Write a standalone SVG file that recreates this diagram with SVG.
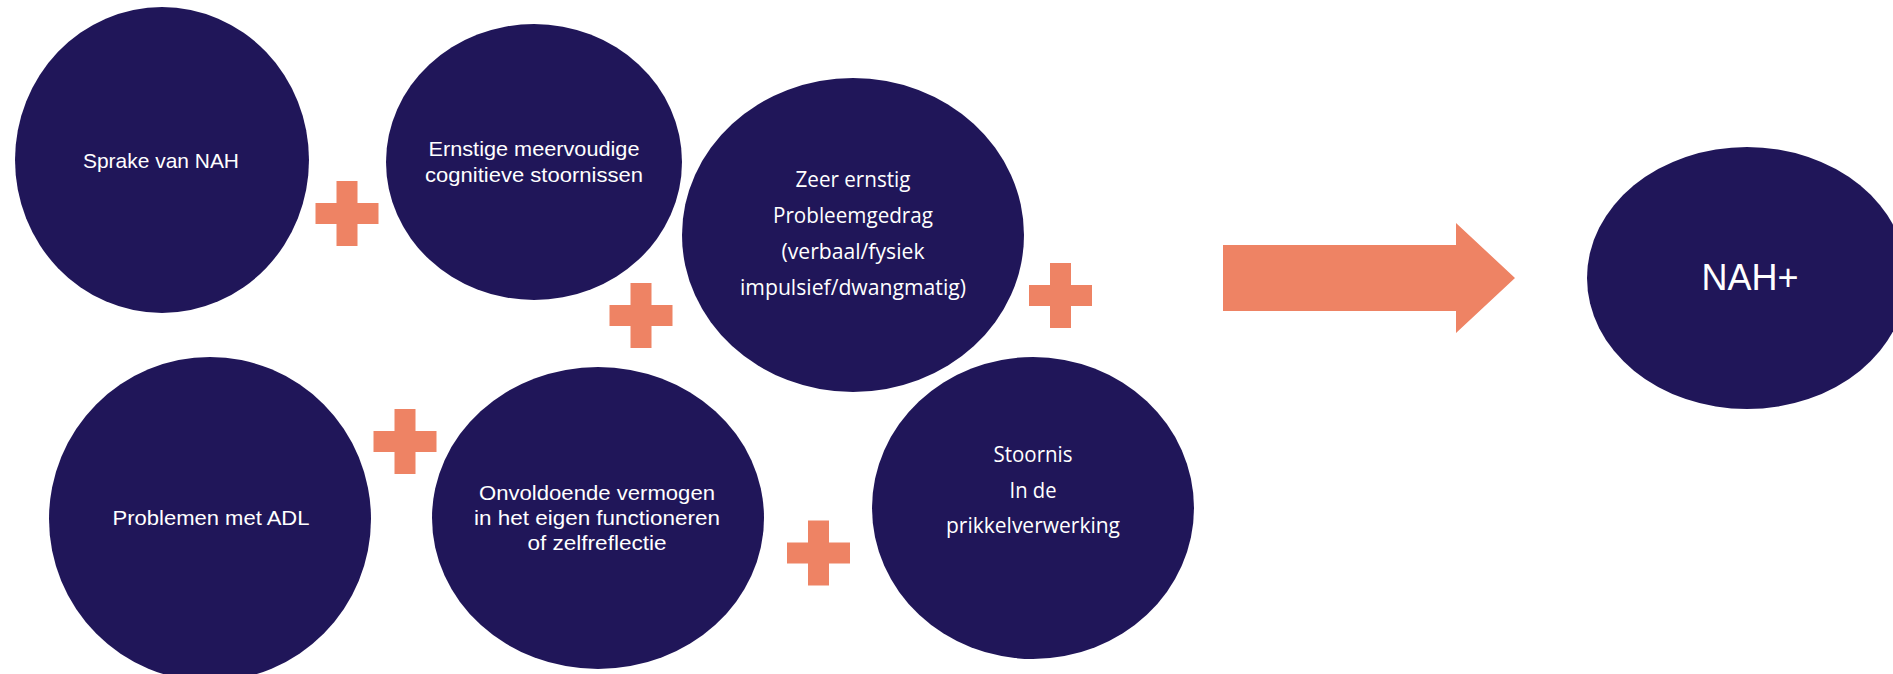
<svg xmlns="http://www.w3.org/2000/svg" xmlns:xlink="http://www.w3.org/1999/xlink" width="1893" height="674" viewBox="0 0 1893 674">
<style>
.node{fill:#201659;}
.plus{fill:#EE8364;}
.t{fill:#FFFFFF;font-family:"Liberation Sans",Arial,sans-serif;font-size:21px;text-anchor:middle;}
.o{fill:#FFFFFF;font-family:"Open Sans","Liberation Sans",sans-serif;font-size:21px;text-anchor:middle;}
.big{fill:#FFFFFF;font-family:"Liberation Sans",Arial,sans-serif;font-size:36px;text-anchor:middle;}
</style>
<defs>
<path id="plusShape" d="M -10.5 -32.5 h21 v22 h21 v21 h-21 v22 h-21 v-22 h-21 v-21 h21 z"/>
</defs>
<rect width="1893" height="674" fill="#FFFFFF"/>
<g id="connectors">
<use xlink:href="#plusShape" class="plus" x="347" y="213.5"/>
<use xlink:href="#plusShape" class="plus" x="641" y="315.5"/>
<use xlink:href="#plusShape" class="plus" x="1060.5" y="295.5"/>
<use xlink:href="#plusShape" class="plus" x="405" y="441.5"/>
<use xlink:href="#plusShape" class="plus" x="818.5" y="553"/>
<polygon id="arrow" class="plus" points="1223,245 1456,245 1456,223 1515,278 1456,333 1456,311 1223,311"/>
</g>
<g id="node-sprake">
<ellipse class="node" cx="162" cy="160" rx="147" ry="153"/>
<text class="t" x="161" y="168" textLength="156" lengthAdjust="spacingAndGlyphs">Sprake van NAH</text>
</g>
<g id="node-ernstige">
<ellipse class="node" cx="534" cy="162" rx="148" ry="138"/>
<text class="t" x="534" y="156" textLength="211" lengthAdjust="spacingAndGlyphs">Ernstige meervoudige</text>
<text class="t" x="534" y="182" textLength="218" lengthAdjust="spacingAndGlyphs">cognitieve stoornissen</text>
</g>
<g id="node-zeer">
<ellipse class="node" cx="853" cy="235" rx="171" ry="157"/>
<text class="o" x="853" y="187" textLength="115" lengthAdjust="spacingAndGlyphs">Zeer ernstig</text>
<text class="o" x="853" y="223" textLength="160" lengthAdjust="spacingAndGlyphs">Probleemgedrag</text>
<text class="o" x="853" y="259" textLength="143" lengthAdjust="spacingAndGlyphs">(verbaal/fysiek</text>
<text class="o" x="853" y="295" textLength="226" lengthAdjust="spacingAndGlyphs">impulsief/dwangmatig)</text>
</g>
<g id="node-adl">
<ellipse class="node" cx="210" cy="519" rx="161" ry="162"/>
<text class="t" x="211" y="525" textLength="197" lengthAdjust="spacingAndGlyphs">Problemen met ADL</text>
</g>
<g id="node-onvoldoende">
<ellipse class="node" cx="598" cy="518" rx="166" ry="151"/>
<text class="t" x="597" y="500" textLength="236" lengthAdjust="spacingAndGlyphs">Onvoldoende vermogen</text>
<text class="t" x="597" y="525" textLength="246" lengthAdjust="spacingAndGlyphs">in het eigen functioneren</text>
<text class="t" x="597" y="550" textLength="139" lengthAdjust="spacingAndGlyphs">of zelfreflectie</text>
</g>
<g id="node-stoornis">
<ellipse class="node" cx="1033" cy="508" rx="161" ry="151"/>
<text class="o" x="1033" y="462" textLength="79" lengthAdjust="spacingAndGlyphs">Stoornis</text>
<text class="o" x="1033" y="498" textLength="47" lengthAdjust="spacingAndGlyphs">In de</text>
<text class="o" x="1033" y="533" textLength="174" lengthAdjust="spacingAndGlyphs">prikkelverwerking</text>
</g>
<g id="node-nahplus">
<ellipse class="node" cx="1747" cy="278" rx="160" ry="131"/>
<text class="big" x="1750" y="290" textLength="97" lengthAdjust="spacingAndGlyphs">NAH+</text>
</g>
</svg>
